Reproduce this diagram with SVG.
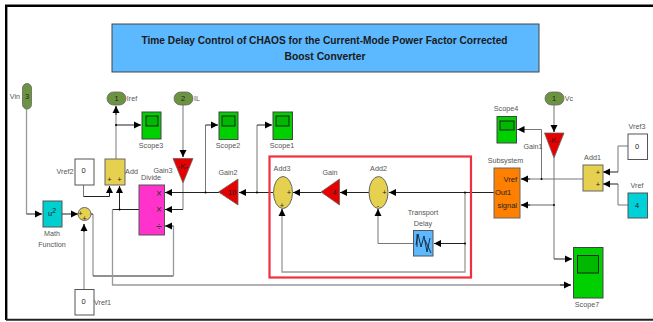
<svg xmlns="http://www.w3.org/2000/svg" width="653" height="322" viewBox="0 0 653 322">
<style>
text{font-family:"Liberation Sans",Arial,sans-serif;font-size:7.2px;fill:#555;text-anchor:middle}
.in{fill:#222;font-size:7.5px}
.mul{fill:#333;font-size:10px}
.st{text-anchor:start}
.en{text-anchor:end}
.title{font-size:11.5px;font-weight:bold;fill:#1a1a1a}
.b{fill:#fff;stroke:#555;stroke-width:1}
.s{fill:#00cf00;stroke:#444;stroke-width:1}
.sc{fill:#00b800;stroke:#222;stroke-width:1}
.y{fill:#e6d050;stroke:#666;stroke-width:1}
.r{fill:#e60000;stroke:#666;stroke-width:.8}
.p{fill:#6c9440;stroke:#666;stroke-width:.8}
.k{fill:none;stroke:#222;stroke-width:1}
.g{fill:none;stroke:#999;stroke-width:1.3}
.m{fill:none;stroke:#777;stroke-width:1}
.a{fill:#000}
</style>
<defs>
<marker id="ah" markerUnits="userSpaceOnUse" markerWidth="8" markerHeight="8" refX="7" refY="4" orient="auto"><path class="a" d="M0,.5L7,4L0,7.5z"/></marker>
</defs>
<rect width="653" height="322" fill="#fff"/>
<g id="frame"><path d="M6.200,320V5.800H653" fill="none" stroke="#000" stroke-width="2.400"/><path d="M6,319.800H653" fill="none" stroke="#222" stroke-width="2"/></g>
<g id="title-box"><rect x="112" y="24" width="427" height="48" fill="#5cb8ff" stroke="#444" stroke-width="1"/>
<text class="title" x="324.500" y="44" textLength="366" lengthAdjust="spacingAndGlyphs">Time Delay Control of CHAOS for the Current-Mode Power Factor Corrected</text>
<text class="title" x="325" y="60" textLength="81" lengthAdjust="spacingAndGlyphs">Boost Converter</text></g>
<g id="connectors">
<path class="g" d="M26.500,109V214"/><path class="k" d="M26.500,214H42" marker-end="url(#ah)"/>
<path class="k" d="M62,214H78" marker-end="url(#ah)"/>
<path class="g" d="M84,289.500V224"/><path class="k" d="M84,232V224" marker-end="url(#ah)"/>
<path class="g" d="M93,214V276"/><path class="k" d="M91,214H93M93,276H173.500"/><path class="g" d="M173.500,276V226"/><path class="k" d="M173.500,226H165" marker-end="url(#ah)"/>
<path class="m" d="M83.500,185V196.500"/><path class="k" d="M83.500,196.500H109.500V186" marker-end="url(#ah)"/>
<path class="k" d="M139,209.500H119.500V186" marker-end="url(#ah)"/>
<path class="k" d="M119.500,209.500H112.500"/><path class="g" d="M112.500,209.500V285H571"/><path class="k" d="M560,285H571" marker-end="url(#ah)"/>
<path class="g" d="M116,159V106"/><path class="k" d="M116,115V106" marker-end="url(#ah)"/>
<path class="k" d="M116,125H141" marker-end="url(#ah)"/>
<path class="m" d="M183,105V157"/><path class="k" d="M183,150V157" marker-end="url(#ah)"/>
<path class="g" d="M183,183V209.500"/><path class="k" d="M183,209.500H165" marker-end="url(#ah)"/>
<path class="k" d="M219,192.500H165" marker-end="url(#ah)"/>
<path class="m" d="M205.500,192.500V125"/><path class="k" d="M205.500,125H218" marker-end="url(#ah)"/>
<path class="k" d="M273,192.500H239" marker-end="url(#ah)"/>
<path class="m" d="M257,192.500V125"/><path class="k" d="M257,125H272" marker-end="url(#ah)"/>
<path class="k" d="M321,192.500H293" marker-end="url(#ah)"/>
<path class="k" d="M369,192.500H340" marker-end="url(#ah)"/>
<path class="k" d="M494,192.500H389" marker-end="url(#ah)"/>
<path class="g" d="M465,192.500V272H282V209"/><path class="k" d="M282,216V209" marker-end="url(#ah)"/>
<path class="k" d="M465,243.500H434" marker-end="url(#ah)"/>
<path class="m" d="M413.500,243.500H378V209"/><path class="k" d="M378,216V209" marker-end="url(#ah)"/>
<path class="m" d="M554,105V132"/><path class="k" d="M554,125V132" marker-end="url(#ah)"/>
<path class="m" d="M554,158V259"/><path class="k" d="M554,259H572" marker-end="url(#ah)"/>
<path class="g" d="M554,205H521"/><path class="k" d="M530,205H521" marker-end="url(#ah)"/>
<path class="m" d="M583,179H521"/><path class="k" d="M530,179H521" marker-end="url(#ah)"/>
<path class="m" d="M541.500,179V129.500H517.500"/><path class="k" d="M525,129.500H517.500" marker-end="url(#ah)"/>
<path class="m" d="M628,146H618V172"/><path class="k" d="M618,172H603" marker-end="url(#ah)"/>
<path class="m" d="M628,205H618V184"/><path class="k" d="M618,184H603" marker-end="url(#ah)"/>
<g class="a"><circle cx="116" cy="125" r="1"/><circle cx="119.500" cy="209.500" r="1"/><circle cx="205.500" cy="192.500" r="1"/><circle cx="257" cy="192.500" r="1"/><circle cx="465" cy="192.500" r="1"/><circle cx="465" cy="243.500" r="1"/><circle cx="541.500" cy="179" r="1"/><circle cx="554" cy="205" r="1"/></g>
</g>
<g id="Vin"><rect class="p" x="22.500" y="83.500" width="9" height="25.500" rx="4.500"/><text class="in" x="27" y="99">3</text><text x="15" y="99">Vin</text></g>
<g id="Iref"><rect class="p" x="107" y="92" width="19" height="13" rx="6.500"/><text class="in" x="116.500" y="100.500">1</text><text x="132" y="100.500">Iref</text></g>
<g id="IL"><rect class="p" x="174" y="92" width="19" height="13" rx="6.500"/><text class="in" x="183" y="100.500">2</text><text x="197" y="100.500">IL</text></g>
<g id="Scope3"><rect class="s" x="142" y="112" width="19" height="27"/><rect class="sc" x="146" y="116" width="12" height="10"/><text x="151" y="148">Scope3</text></g>
<g id="Vref2"><rect class="b" x="75" y="159" width="19" height="26"/><text class="in" x="83.500" y="173">0</text><text x="65" y="173.500">Vref2</text></g>
<g id="Add"><rect class="y" x="105" y="159" width="20" height="26"/><text class="in" x="109.500" y="182">+</text><text class="in" x="119.500" y="182">+</text><text x="131.500" y="173.500">Add</text></g>
<g id="Divide"><rect x="139" y="185" width="25.500" height="50" fill="#ff33cc" stroke="#555"/><text class="mul" x="159" y="196.500">×</text><text class="mul" x="159" y="213">×</text><text class="mul" x="159" y="229.500">÷</text><text x="151" y="180">Divide</text></g>
<g id="Gain3"><path class="r" d="M173,158.500H193L183,183z"/><text class="in" x="183" y="169">-K-</text><text x="163" y="172.500">Gain3</text></g>
<g id="MathFunction"><rect x="43" y="201" width="19" height="26" fill="#00cfd0" stroke="#555"/><text class="in" x="52" y="216">u<tspan dy="-3" font-size="7">2</tspan></text><text x="52" y="235.500">Math</text><text x="52" y="246.500">Function</text></g>
<g id="Sum"><circle class="y" cx="84.500" cy="214" r="6.500"/><text class="in" x="80.500" y="216">+</text><text class="in" x="84.500" y="220.500">+</text></g>
<g id="Vref1"><rect class="b" x="75" y="289.500" width="19" height="25.500"/><text class="in" x="83.500" y="304">0</text><text x="102.500" y="304.500">Vref1</text></g>
<g id="Scope2"><rect class="s" x="219" y="112" width="19" height="27.500"/><rect class="sc" x="222" y="116" width="13" height="10"/><text x="228" y="148">Scope2</text></g>
<g id="Scope1"><rect class="s" x="273" y="112" width="19.500" height="27.500"/><rect class="sc" x="276" y="116" width="13" height="10"/><text x="282" y="148">Scope1</text></g>
<g id="Gain2"><path class="r" d="M218.500,192L238,179V205z"/><text class="in" x="232" y="195">10</text><text x="228" y="175">Gain2</text></g>
<g id="Add3"><ellipse class="y" cx="283" cy="192.500" rx="9.500" ry="16"/><text class="in" x="289" y="195">+</text><text class="in" x="282" y="208">+</text><text x="282" y="170.500">Add3</text></g>
<g id="Gain"><path class="r" d="M321,192L339.500,179V205z"/><text class="in" x="334.500" y="195">4</text><text x="330" y="175">Gain</text></g>
<g id="Add2"><ellipse class="y" cx="378.500" cy="192.500" rx="9.500" ry="16"/><text class="in" x="384.500" y="195">+</text><text class="in" x="378" y="208">-</text><text x="378.500" y="170.500">Add2</text></g>
<g id="TransportDelay"><rect x="413.500" y="230.500" width="19.500" height="25.500" fill="#5cb8ff" stroke="#555"/><path d="M416,245L418,234L421,247L424,236L427,252L430,238M417,234V247M425,240L431,253" fill="none" stroke="#123" stroke-width=".9"/><text x="423" y="214.500">Transport</text><text x="423" y="225.500">Delay</text></g>
<g id="RedBox"><rect x="269.500" y="156.500" width="201.500" height="121" fill="none" stroke="#f0303f" stroke-width="2.200"/></g>
<g id="Vc"><rect class="p" x="545" y="92" width="19" height="13" rx="6.500"/><text class="in" x="554" y="100.500">1</text><text x="569" y="100.500">Vc</text></g>
<g id="Gain1"><path class="r" d="M544.500,133H564L554,158z"/><text class="in" x="554" y="143">-K-</text><text x="533" y="148.500">Gain1</text></g>
<g id="Scope4"><rect class="s" x="497" y="116.500" width="19.500" height="26.500"/><rect class="sc" x="500" y="121" width="14" height="9"/><text x="506" y="111">Scope4</text></g>
<g id="Subsystem"><rect x="494" y="168" width="26" height="50" fill="#ff8000" stroke="#666"/><text class="in en" x="517" y="181.500">Vref</text><text class="in st" x="495" y="195">Out1</text><text class="in en" x="517" y="207.500">signal</text><text x="505.500" y="162.500">Subsystem</text></g>
<g id="Add1"><rect class="y" x="583" y="165" width="20" height="26"/><text class="in" x="598" y="175">+</text><text class="in" x="598" y="187">+</text><text x="592.500" y="159.500">Add1</text></g>
<g id="Vref3"><rect class="b" x="628" y="134" width="19.500" height="25.500"/><text class="in" x="637" y="148.500">0</text><text x="637" y="128.500">Vref3</text></g>
<g id="Vref"><rect x="628" y="193" width="19.500" height="25" fill="#00d0d8" stroke="#555"/><text class="in" x="637" y="208">4</text><text x="637" y="187.500">Vref</text></g>
<g id="Scope7"><rect class="s" x="573.500" y="247.500" width="29.500" height="50.500"/><rect class="sc" x="577.500" y="255.500" width="21" height="17.500"/><text x="587" y="306.500">Scope7</text></g>
</svg>
